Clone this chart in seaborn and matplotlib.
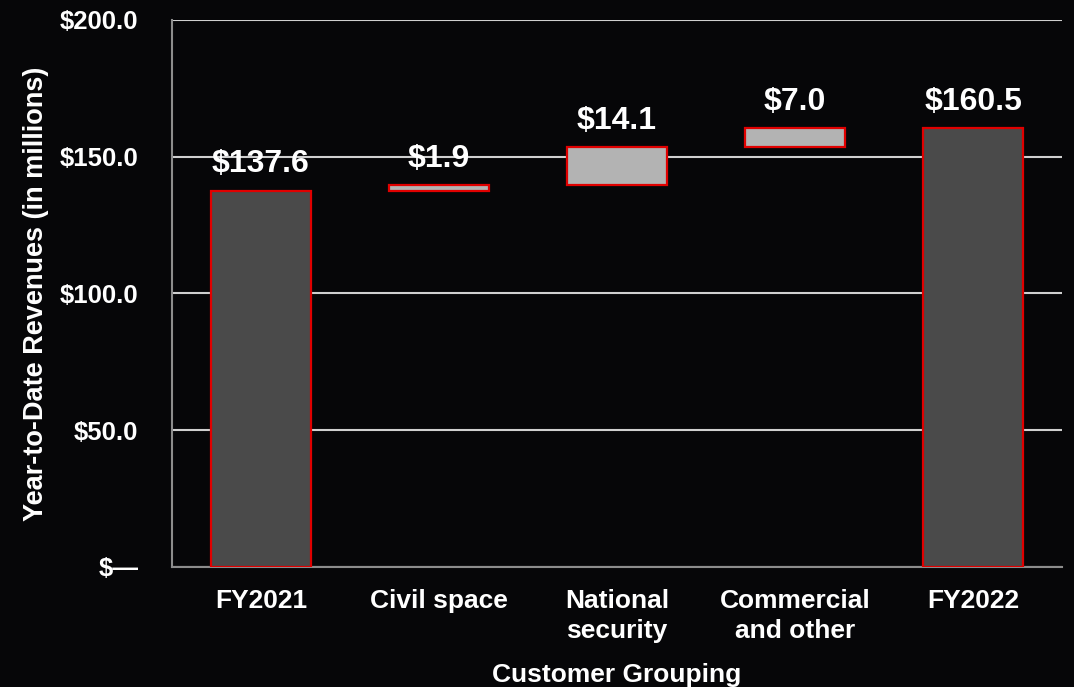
import matplotlib
matplotlib.use("Agg")
import matplotlib.pyplot as plt
import seaborn as sns
import numpy as np
import pandas as pd
from matplotlib.ticker import FuncFormatter

categories = ["FY2021", "Civil space", "National\nsecurity", "Commercial\nand other", "FY2022"]
changes = [137.6, 1.9, 14.1, 7.0, 160.5]
is_total = [True, False, False, False, True]
value_labels = ["$137.6", "$1.9", "$14.1", "$7.0", "$160.5"]
y_ticks = [0, 50, 100, 150, 200]

# waterfall bases / tops
bases, tops = [], []
running = 0.0
for v, tot in zip(changes, is_total):
    if tot:
        bases.append(0.0)
        tops.append(v)
        running = v
    else:
        bases.append(running)
        tops.append(running + v)
        running += v

df = pd.DataFrame({"cat": categories, "top": tops})

BG = "#060608"
sns.set_theme(style="white")
plt.rcParams["font.family"] = ["Liberation Sans", "DejaVu Sans"]
plt.rcParams["font.weight"] = "bold"

fig, ax = plt.subplots(figsize=(10.74, 6.87), dpi=100)
fig.patch.set_facecolor(BG)
ax.set_facecolor(BG)
fig.subplots_adjust(left=0.160, right=0.989, top=0.971, bottom=0.1747)

sns.barplot(data=df, x="cat", y="top", ax=ax, width=0.56, color="#4a4a4a",
            edgecolor="#e00000", linewidth=1.6, zorder=3)

for i, (p, b, t, tot) in enumerate(zip(ax.patches, bases, tops, is_total)):
    p.set_y(b)
    p.set_height(t - b)
    p.set_facecolor("#4a4a4a" if tot else "#b3b3b3")
    p.set_edgecolor("#e00000")
    ax.annotate(value_labels[i],
                xy=(p.get_x() + p.get_width() / 2, t), xytext=(0, 8),
                textcoords="offset points", ha="center", va="bottom",
                color="white", fontsize=23, fontweight="bold", zorder=5)

ax.set_ylim(0, 200)
ax.set_xlim(-0.5, 4.5)
ax.set_yticks(y_ticks)
ax.yaxis.set_major_formatter(FuncFormatter(lambda v, _: "$\u2014" if v == 0 else f"${v:.1f}"))
ax.grid(axis="y", color="#cfcfcf", linewidth=1.5, zorder=0)
ax.set_axisbelow(True)
ax.grid(axis="x", visible=False)

for s in ["top", "right"]:
    ax.spines[s].set_visible(False)
for s in ["left", "bottom"]:
    ax.spines[s].set_color("#8c8c8c")
    ax.spines[s].set_linewidth(1.5)

ax.tick_params(axis="y", length=0, pad=24, labelsize=18.5, labelcolor="white")
ax.tick_params(axis="x", length=0, pad=16, labelsize=19, labelcolor="white")
for lbl in ax.get_xticklabels() + ax.get_yticklabels():
    lbl.set_fontweight("bold")
    lbl.set_linespacing(1.3)

ax.set_ylabel("Year-to-Date Revenues (in millions)", color="white", fontsize=19.5, fontweight="bold")
ax.yaxis.set_label_coords(-0.138, 0.5)
ax.set_xlabel("Customer Grouping", color="white", fontsize=19, fontweight="bold")
ax.xaxis.set_label_coords(0.5, -0.176)

fig.savefig("out.png", dpi=100, facecolor=BG)
